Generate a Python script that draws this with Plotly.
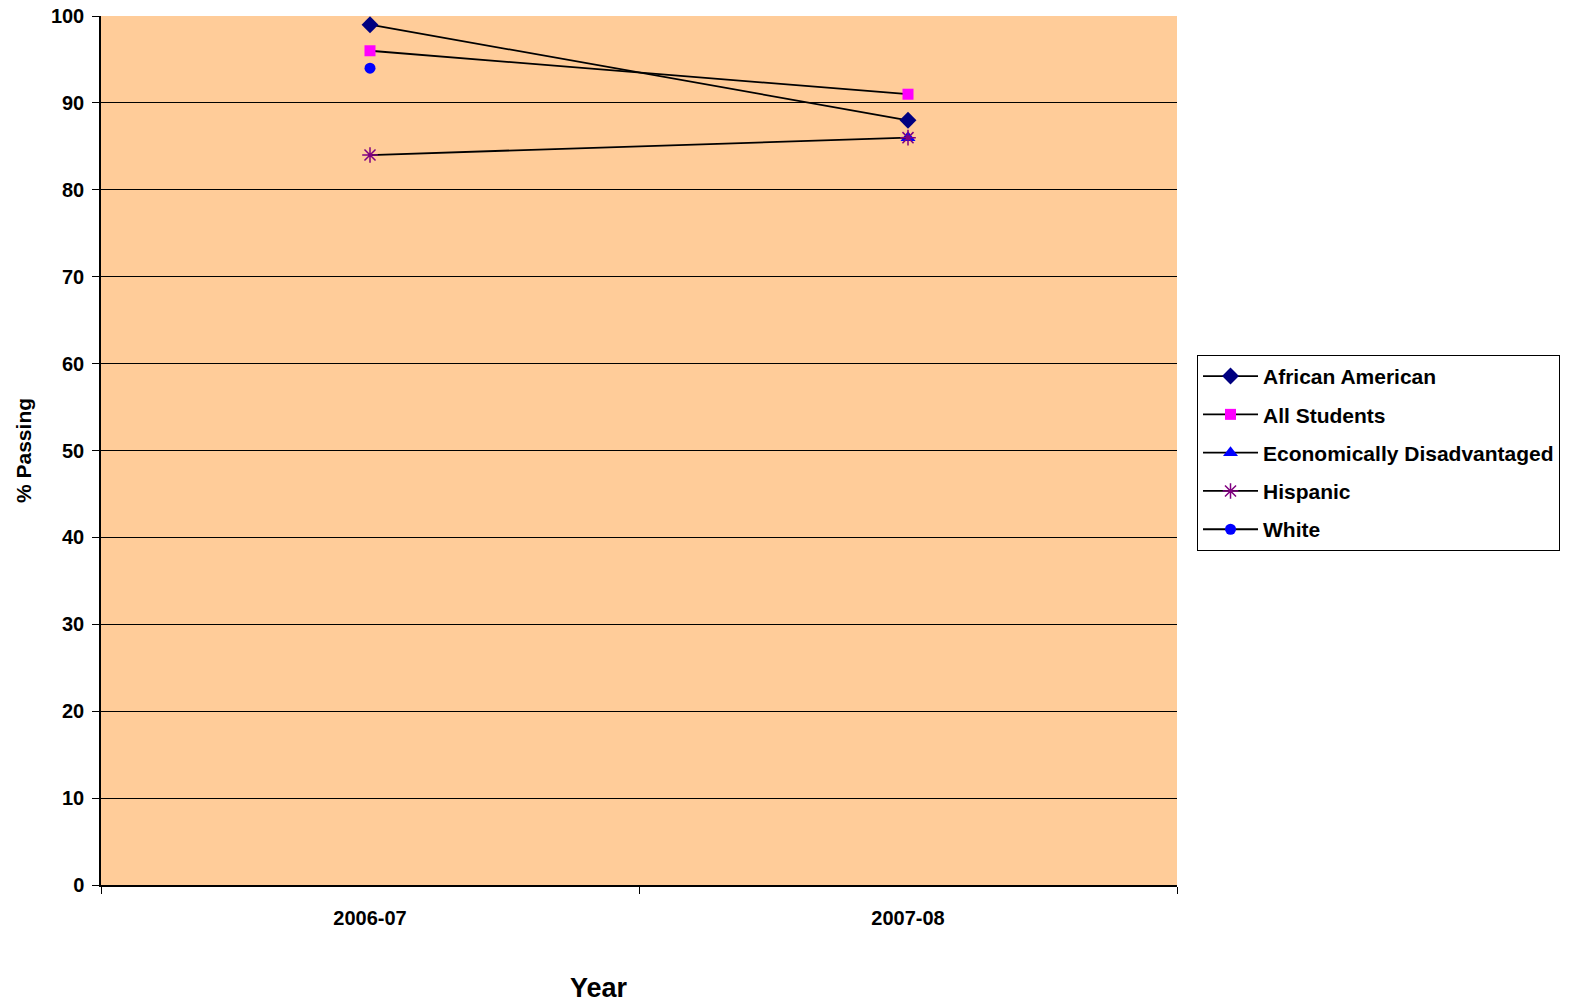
import plotly.graph_objects as go

years = ["2006-07", "2007-08"]
african_american = [99, 88]
all_students = [96, 91]
econ_disadv = [None, 86]
hispanic = [84, 86]
white = [94, None]

series = [
    ("African American", african_american, "diamond", "#000080", 13),
    ("All Students", all_students, "square", "#FF00FF", 11),
    ("Economically Disadvantaged", econ_disadv, "triangle-up", "#0000FF", 13),
    ("Hispanic", hispanic, "asterisk-open", "#800080", 13),
    ("White", white, "circle", "#0000FF", 11),
]

FONT = "Liberation Sans, Arial, sans-serif"

fig = go.Figure()
for i, (name, vals, sym, col, sz) in enumerate(series):
    marker = dict(symbol=sym, color=col, size=sz)
    if sym == "asterisk-open":
        marker["line"] = dict(color=col, width=1.5)
    else:
        marker["line"] = dict(color=col, width=0)
    fig.add_trace(go.Scatter(
        x=years, y=vals, name=name, mode="lines+markers",
        line=dict(color="black", width=1.8), marker=marker,
        legendgroup=f"g{i}", connectgaps=False,
    ))

fig.update_layout(
    width=1577, height=1002,
    margin=dict(l=101, r=400, t=16, b=117, autoexpand=False),
    paper_bgcolor="white", plot_bgcolor="#FFCC99",
    font=dict(family=FONT, color="black"),
    showlegend=True,
    legend=dict(
        x=1.0186, y=0.61, xanchor="left", yanchor="top",
        bgcolor="white", bordercolor="black", borderwidth=1,
        font=dict(family=FONT, size=21, color="black", weight="bold"),
        traceorder="grouped", tracegroupgap=8,
        itemwidth=55,
    ),
    xaxis=dict(
        type="category", range=[-0.5, 1.5], tickson="boundaries",
        showgrid=False, showline=True, linecolor="black", linewidth=1.5,
        ticks="outside", ticklen=7, tickcolor="black",
        tickfont=dict(family=FONT, size=20, weight="bold"),
        ticklabelstandoff=14,
        zeroline=False, automargin=False,
    ),
    yaxis=dict(
        range=[0, 100], dtick=10, showgrid=True, gridcolor="black", gridwidth=1,
        showline=True, linecolor="black", linewidth=1.5,
        ticks="outside", ticklen=7, tickcolor="black",
        tickfont=dict(family=FONT, size=20, weight="bold"),
        ticklabelstandoff=4,
        zeroline=False, mirror=False, automargin=False,
        title=dict(text="% Passing", font=dict(family=FONT, size=21, weight="bold"), standoff=14),
    ),
)

fig.add_annotation(
    text="Year", xref="paper", yref="paper", x=0.463, y=-0.118,
    xanchor="center", yanchor="middle", showarrow=False,
    font=dict(family=FONT, size=27, weight="bold", color="black"),
)

fig.write_html("out.html")
